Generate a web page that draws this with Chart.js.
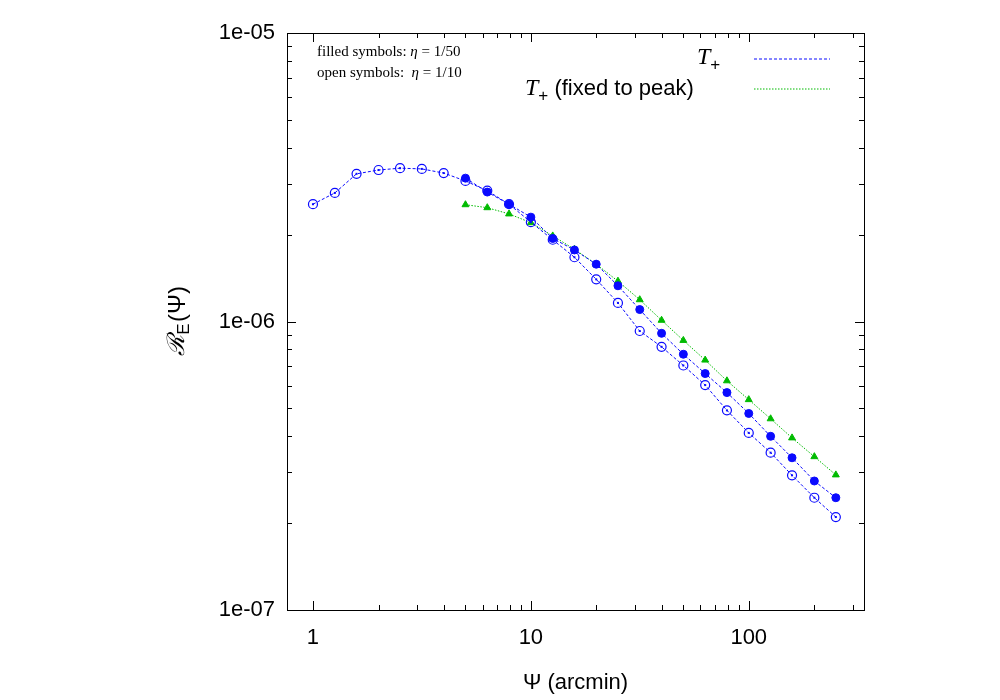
<!DOCTYPE html>
<html><head><meta charset="utf-8">
<script src="https://cdn.jsdelivr.net/npm/chart.js@4"></script>
<style>body{margin:0;background:#fff}#w{width:1000px;height:700px}</style>
</head><body><div id="w"><canvas id="c"></canvas></div>
<script>
const psi = [1,1.26,1.585,2,2.51,3.16,3.98,5.01,6.31,7.94,10,12.6,15.85,19.95,25.1,31.6,39.8,50.1,63.1,79.4,100,126,158,200,251];
const openVals = [2.55e-6,2.79e-6,3.25e-6,3.35e-6,3.4e-6,3.38e-6,3.27e-6,3.07e-6,2.84e-6,2.55e-6,2.21e-6,1.92e-6,1.67e-6,1.40e-6,1.16e-6,9.27e-7,8.17e-7,7.04e-7,6.02e-7,4.92e-7,4.11e-7,3.51e-7,2.93e-7,2.45e-7,2.1e-7];
const psiShort = psi.slice(7);
const filledVals = [3.14e-6,2.81e-6,2.55e-6,2.3e-6,1.94e-6,1.77e-6,1.58e-6,1.33e-6,1.1e-6,9.1e-7,7.7e-7,6.6e-7,5.67e-7,4.8e-7,4.0e-7,3.37e-7,2.8e-7,2.45e-7];
const peakVals = [2.54e-6,2.48e-6,2.36e-6,2.2e-6,1.98e-6,1.78e-6,1.58e-6,1.38e-6,1.19e-6,1.01e-6,8.6e-7,7.35e-7,6.23e-7,5.36e-7,4.6e-7,3.95e-7,3.4e-7,2.94e-7];
const xTicks = [1,10,100], xTickLabels = ['1','10','100'];
const yTicks = [1e-5,1e-6,1e-7], yTickLabels = ['1e-05','1e-06','1e-07'];
const BLUE='#0a0aff', GREEN='#00bb00';
const xy=(xs,ys)=>xs.map((x,i)=>({x,y:ys[i]}));
function seq(c,x,y,parts){parts.forEach(([t,f,dy])=>{c.font=f;c.fillText(t,x,y+(dy||0));x+=c.measureText(t).width;});}
const deco={id:'deco',afterDatasetsDraw(ch){
 const c=ch.ctx,a=ch.chartArea,xs=ch.scales.x,ys=ch.scales.y;
 c.save();
 c.fillStyle=BLUE;
 ch.getDatasetMeta(0).data.forEach(p=>{c.fillRect(p.x-1,p.y-1,2,2);});
 c.strokeStyle='#000';c.lineWidth=1;
 c.strokeRect(a.left+.5,a.top+.5,a.right-a.left,a.bottom-a.top);
 c.beginPath();
 for(let d=0;d<3;d++)for(let m=1;m<10;m++){const v=Math.pow(10,d)*m;if(v<xs.min||v>xs.max)continue;
  const px=Math.round(xs.getPixelForValue(v))+.5,L=m==1?9:5;
  c.moveTo(px,a.bottom);c.lineTo(px,a.bottom-L);c.moveTo(px,a.top);c.lineTo(px,a.top+L);}
 for(let d=-7;d<-5;d++)for(let m=1;m<=10;m++){const v=Math.pow(10,d)*m;
  const py=Math.round(ys.getPixelForValue(v))+.5,L=(m==1||m==10)?9:5;
  c.moveTo(a.left,py);c.lineTo(a.left+L,py);c.moveTo(a.right,py);c.lineTo(a.right-L,py);}
 c.stroke();
 c.fillStyle='#000';c.font='22px "Liberation Sans"';c.textAlign='center';c.textBaseline='top';
 xTicks.forEach((v,i)=>c.fillText(xTickLabels[i],xs.getPixelForValue(v),a.bottom+17));
 c.textAlign='right';c.textBaseline='middle';
 yTicks.forEach((v,i)=>c.fillText(yTickLabels[i],a.left-12,ys.getPixelForValue(v)));
 c.textAlign='center';c.fillText('Ψ (arcmin)',(a.left+a.right)/2,683);
 c.save();c.translate(178,321);c.rotate(-Math.PI/2);c.textAlign='center';
 c.font='italic 24px "DejaVu Serif"';c.fillText('ℛ',-24,0);
 c.font='17px "Liberation Sans"';c.fillText('E',-8,6);
 c.font='24px "Liberation Sans"';c.fillText('(Ψ)',17,0);c.restore();
 c.textAlign='left';
 const R='15px "Liberation Serif"',I='italic 15px "Liberation Serif"';
 seq(c,317,52,[['filled symbols: ',R],['η',I],[' = 1/50',R]]);
 seq(c,317,73,[['open symbols:  ',R],['η',I],[' = 1/10',R]]);
 const TI='italic 24px "Liberation Serif"',PS='17px "Liberation Sans"',LS='22px "Liberation Sans"';
 seq(c,697,58,[['T',TI],['+',PS,7]]);
 seq(c,525,89,[['T',TI],['+',PS,7],[' (fixed to peak)',LS]]);
 c.setLineDash([3,2]);c.lineWidth=1;c.strokeStyle=BLUE;c.beginPath();c.moveTo(754,59);c.lineTo(830,59);c.stroke();
 c.setLineDash([1.5,1.5]);c.strokeStyle=GREEN;c.beginPath();c.moveTo(754,89);c.lineTo(830,89);c.stroke();
 c.restore();
}};
new Chart(document.getElementById('c'),{type:'scatter',
 data:{datasets:[
  {data:xy(psi,openVals),showLine:true,borderColor:BLUE,borderWidth:1,borderDash:[3,2],pointStyle:'circle',pointRadius:4.5,pointBorderColor:BLUE,pointBackgroundColor:'rgba(0,0,0,0)',pointBorderWidth:1.2},
  {data:xy(psiShort,filledVals),showLine:true,borderColor:BLUE,borderWidth:1,borderDash:[3,2],pointStyle:'circle',pointRadius:4,pointBorderColor:BLUE,pointBackgroundColor:BLUE},
  {data:xy(psiShort,peakVals),showLine:true,borderColor:GREEN,borderWidth:1,borderDash:[1.5,1.5],pointStyle:'triangle',pointRadius:4,pointBorderColor:GREEN,pointBackgroundColor:GREEN}
 ]},
 options:{responsive:true,maintainAspectRatio:false,animation:false,
  layout:{padding:{top:33,right:136,left:0,bottom:0}},
  plugins:{legend:{display:false},tooltip:{enabled:false}},
  scales:{
   x:{type:'logarithmic',min:0.76,max:338,grid:{display:false},border:{display:false},ticks:{display:false},afterFit(s){s.height=90;}},
   y:{type:'logarithmic',min:1e-7,max:1e-5,grid:{display:false},border:{display:false},ticks:{display:false},afterFit(s){s.width=287;}}
  }},
 plugins:[deco]});
</script></body></html>
